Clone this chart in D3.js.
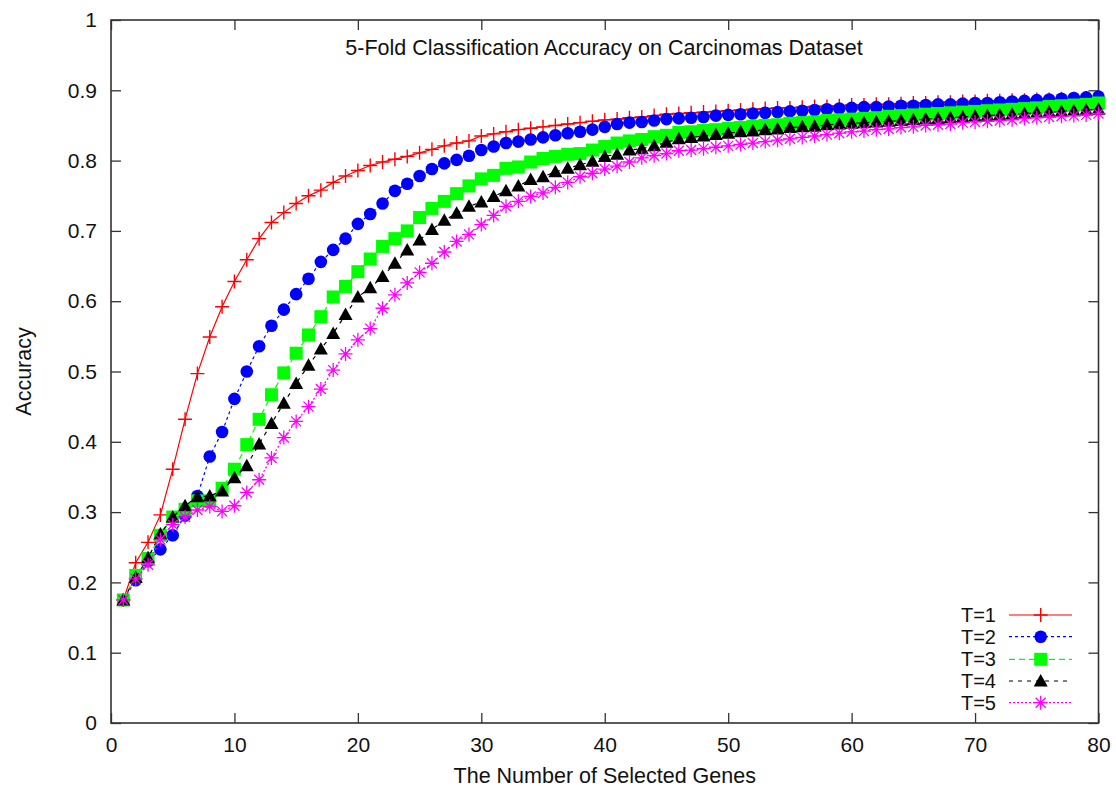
<!DOCTYPE html>
<meta charset="utf-8">
<script src="https://d3js.org/d3.v7.min.js"></script>
<style>
  body { margin: 0; background: #fff; }
  text { font-family: "Liberation Sans", Arial, sans-serif; fill: #111; }
</style>
<div id="chart"></div>
<script>
// number of selected genes, 1..80
var genes = d3.range(1, 81);

var t1 = [0.175,0.228,0.257,0.296,0.361,0.432,0.497,0.549,0.592,0.628,0.659,0.689,0.712,0.726,0.739,0.750,0.758,0.769,0.778,0.786,
          0.793,0.798,0.802,0.806,0.811,0.816,0.821,0.825,0.828,0.835,0.838,0.841,0.844,0.846,0.848,0.850,0.852,0.854,0.856,0.858,
          0.859,0.861,0.862,0.864,0.866,0.867,0.868,0.869,0.870,0.871,0.872,0.873,0.874,0.875,0.875,0.876,0.877,0.877,0.878,0.879,
          0.879,0.880,0.880,0.881,0.882,0.882,0.883,0.883,0.884,0.884,0.885,0.885,0.886,0.886,0.887,0.887,0.888,0.888,0.889,0.889];
var t2 = [0.175,0.203,0.230,0.247,0.267,0.295,0.323,0.379,0.414,0.461,0.500,0.536,0.565,0.588,0.610,0.632,0.656,0.673,0.689,0.710,
          0.724,0.739,0.757,0.767,0.778,0.788,0.796,0.801,0.807,0.815,0.820,0.825,0.827,0.830,0.833,0.836,0.839,0.841,0.844,0.848,
          0.852,0.854,0.855,0.857,0.859,0.860,0.861,0.862,0.864,0.865,0.866,0.867,0.868,0.869,0.870,0.871,0.872,0.873,0.874,0.875,
          0.876,0.876,0.877,0.878,0.878,0.879,0.880,0.880,0.881,0.882,0.882,0.883,0.884,0.885,0.886,0.887,0.888,0.889,0.890,0.891];
var t3 = [0.175,0.210,0.234,0.267,0.293,0.304,0.316,0.316,0.334,0.361,0.396,0.432,0.467,0.498,0.526,0.552,0.578,0.606,0.621,0.642,
          0.660,0.678,0.689,0.700,0.719,0.732,0.742,0.753,0.764,0.774,0.779,0.789,0.791,0.798,0.803,0.806,0.809,0.810,0.815,0.820,
          0.825,0.828,0.830,0.834,0.836,0.840,0.841,0.843,0.844,0.846,0.847,0.849,0.850,0.851,0.853,0.854,0.855,0.857,0.858,0.859,
          0.860,0.861,0.863,0.864,0.865,0.866,0.867,0.868,0.869,0.870,0.871,0.872,0.873,0.874,0.875,0.877,0.878,0.879,0.880,0.882];
var t4 = [0.175,0.207,0.235,0.269,0.293,0.309,0.322,0.323,0.330,0.349,0.366,0.397,0.426,0.455,0.483,0.509,0.532,0.554,0.581,0.606,
          0.619,0.635,0.654,0.673,0.687,0.702,0.715,0.725,0.735,0.741,0.749,0.757,0.764,0.773,0.777,0.784,0.789,0.794,0.799,0.806,
          0.809,0.815,0.817,0.821,0.826,0.831,0.833,0.835,0.837,0.839,0.841,0.842,0.844,0.845,0.847,0.848,0.849,0.851,0.852,0.853,
          0.854,0.855,0.856,0.857,0.858,0.859,0.860,0.861,0.862,0.863,0.864,0.865,0.866,0.867,0.868,0.869,0.870,0.871,0.872,0.873];
var t5 = [0.175,0.205,0.225,0.261,0.282,0.293,0.303,0.308,0.301,0.309,0.328,0.346,0.377,0.406,0.429,0.450,0.475,0.502,0.525,0.545,
          0.561,0.590,0.609,0.626,0.641,0.654,0.670,0.685,0.695,0.709,0.722,0.735,0.742,0.749,0.754,0.762,0.769,0.777,0.782,0.788,
          0.792,0.798,0.804,0.807,0.810,0.814,0.815,0.817,0.819,0.821,0.823,0.825,0.827,0.829,0.831,0.833,0.835,0.837,0.839,0.841,
          0.842,0.844,0.845,0.847,0.848,0.850,0.851,0.852,0.854,0.855,0.856,0.857,0.858,0.860,0.861,0.862,0.863,0.864,0.865,0.867];

var seriesNames = ["T=1", "T=2", "T=3", "T=4", "T=5"];
var xTicks = [0, 10, 20, 30, 40, 50, 60, 70, 80];
var yTicks = [0, 0.1, 0.2, 0.3, 0.4, 0.5, 0.6, 0.7, 0.8, 0.9, 1];

// styles per series
var styles = [
  {color: "#ff0000", dash: null,  marker: "plus"},
  {color: "#0000ff", dash: "3,3", marker: "circle"},
  {color: "#00ff00", dash: "6,4", marker: "square"},
  {color: "#000000", dash: "4,5", marker: "triangle"},
  {color: "#ff00ff", dash: "2,2", marker: "star"}
];
var allSeries = [t1, t2, t3, t4, t5];

var margin = {top: 20, right: 17.5, bottom: 64, left: 111},
    width = 1116 - margin.left - margin.right,
    height = 787 - margin.top - margin.bottom;

var svg = d3.select("#chart").append("svg")
    .attr("width", 1116).attr("height", 787)
  .append("g")
    .attr("transform", "translate(" + margin.left + "," + margin.top + ")");

var x = d3.scaleLinear().domain([0, 80]).range([0, width]);
var y = d3.scaleLinear().domain([0, 1]).range([height, 0]);

// axes (ticks pointing inward, mirrored on top/right)
var axisStyle = function(g) {
  g.select(".domain").remove();
  g.selectAll("line").attr("stroke", "#333").attr("stroke-width", 1.3);
  g.selectAll("text").attr("font-size", 21).attr("fill", "#111");
};
svg.append("g").attr("transform", "translate(0," + height + ")")
  .call(d3.axisBottom(x).tickValues(xTicks).tickSize(-10).tickPadding(14).tickFormat(d3.format("d")))
  .call(axisStyle);
svg.append("g")
  .call(d3.axisTop(x).tickValues(xTicks).tickSize(-10).tickFormat(""))
  .call(axisStyle);
svg.append("g")
  .call(d3.axisLeft(y).tickValues(yTicks).tickSize(-10).tickPadding(14).tickFormat(function(d) { return d === 0 || d === 1 ? d : d3.format(".1f")(d); }))
  .call(axisStyle);
svg.append("g").attr("transform", "translate(" + width + ",0)")
  .call(d3.axisRight(y).tickValues(yTicks).tickSize(-10).tickFormat(""))
  .call(axisStyle);

svg.append("rect").attr("width", width).attr("height", height)
  .attr("fill", "none").attr("stroke", "#333").attr("stroke-width", 1.6);

// marker drawing
function drawMarker(g, type, color) {
  if (type === "plus") {
    g.append("path").attr("d", "M-7,0H7M0,-7V7").attr("stroke", color).attr("stroke-width", 1.4).attr("fill", "none");
  } else if (type === "circle") {
    g.append("circle").attr("r", 6.3).attr("fill", color);
  } else if (type === "square") {
    g.append("rect").attr("x", -6.5).attr("y", -6.5).attr("width", 13).attr("height", 13).attr("fill", color);
  } else if (type === "triangle") {
    g.append("path").attr("d", "M0,-7L7,5.5H-7Z").attr("fill", color);
  } else if (type === "star") {
    g.append("path").attr("d", "M-7,0H7M0,-7V7M-5,-5L5,5M-5,5L5,-5").attr("stroke", color).attr("stroke-width", 1.3).attr("fill", "none");
  }
}

var line = d3.line().x(function(d) { return x(d[0]); }).y(function(d) { return y(d[1]); });

allSeries.forEach(function(vals, i) {
  var st = styles[i];
  var pts = genes.map(function(g, k) { return [g, vals[k]]; });
  var gs = svg.append("g");
  gs.append("path").datum(pts)
    .attr("fill", "none").attr("stroke", st.color).attr("stroke-width", 1.2)
    .attr("stroke-dasharray", st.dash)
    .attr("d", line);
  gs.selectAll("g.m").data(pts).enter().append("g")
    .attr("transform", function(d) { return "translate(" + x(d[0]) + "," + y(d[1]) + ")"; })
    .each(function() { drawMarker(d3.select(this), st.marker, st.color); });
});

// legend
var legendY = [595, 616.7, 639.3, 661, 682.7];
seriesNames.forEach(function(name, i) {
  var st = styles[i];
  var ly = legendY[i];
  svg.append("text").attr("x", 885).attr("y", ly).attr("dy", "0.35em")
    .attr("text-anchor", "end").attr("font-size", 20).text(name);
  svg.append("line").attr("x1", 898).attr("x2", 961).attr("y1", ly).attr("y2", ly)
    .attr("stroke", st.color).attr("stroke-width", 1.2).attr("stroke-dasharray", st.dash);
  drawMarker(svg.append("g").attr("transform", "translate(" + 929.7 + "," + ly + ")"), st.marker, st.color);
});

// title and axis labels
svg.append("text").attr("x", 493).attr("y", 35).attr("text-anchor", "middle")
  .attr("font-size", 21.5).text("5-Fold Classification Accuracy on Carcinomas Dataset");
svg.append("text").attr("x", width / 2).attr("y", height + 60).attr("text-anchor", "middle")
  .attr("font-size", 21.5).text("The Number of Selected Genes");
svg.append("text").attr("transform", "translate(-80," + (height / 2) + ") rotate(-90)")
  .attr("text-anchor", "middle").attr("font-size", 21.5).text("Accuracy");
</script>
